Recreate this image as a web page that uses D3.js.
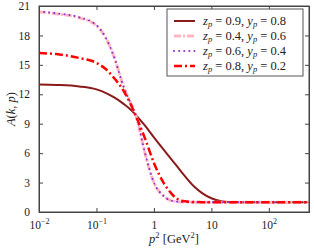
<!DOCTYPE html>
<html>
<head>
<meta charset="utf-8">
<script src="https://cdn.jsdelivr.net/npm/d3@7"></script>
<style>
  body { margin: 0; background: #fff; }
  #chart, #chart text, #chart tspan { font-family: 'Liberation Serif', 'DejaVu Serif', serif !important; }
</style>
</head>
<body>
<svg id="chart" width="314" height="251"></svg>
<script>
// p^2 grid [GeV^2]
const pSq = [0.01, 0.02, 0.05, 0.1, 0.15, 0.2, 0.3, 0.4, 0.5, 0.7, 1, 1.5, 2, 3, 5, 7, 10, 15, 20, 50, 100, 500];

// A(k,p) for each parameter set
const aZ09Y08 = [13.0, 12.95, 12.8, 12.5, 12.1, 11.7, 11.0, 10.4, 9.8, 8.8, 7.6, 6.3, 5.4, 4.1, 2.6, 1.9, 1.4, 1.1, 1.03, 1.0, 1.0, 1.0];
const aZ04Y06 = [20.4, 20.2, 19.8, 19.0, 17.6, 15.9, 12.7, 11.0, 9.6, 6.0, 3.0, 1.6, 1.15, 1.03, 1.0, 1.0, 1.0, 1.0, 1.0, 1.0, 1.0, 1.0];
const aZ06Y04 = [20.45, 20.25, 19.85, 19.05, 17.6, 15.9, 12.7, 11.0, 9.6, 6.0, 3.0, 1.6, 1.15, 1.03, 1.0, 1.0, 1.0, 1.0, 1.0, 1.0, 1.0, 1.0];
const aZ08Y02 = [16.2, 16.1, 15.7, 15.2, 14.5, 13.7, 12.3, 10.9, 9.6, 7.5, 5.0, 2.9, 1.9, 1.15, 1.02, 1.0, 1.0, 1.0, 1.0, 1.0, 1.0, 1.0];

const seriesLabels = [
  { z: '0.9', y: '0.8' },
  { z: '0.4', y: '0.6' },
  { z: '0.6', y: '0.4' },
  { z: '0.8', y: '0.2' }
];

const xTicks = [0.01, 0.1, 1, 10, 100];
const yTicks = [0, 3, 6, 9, 12, 15, 18, 21];

const series = [
  { values: aZ09Y08, color: '#8b1a1a', width: 2, dash: null, cap: 'butt', lab: seriesLabels[0] },
  { values: aZ04Y06, color: '#ffb6c1', width: 3, dash: '7,2,2,2', cap: 'butt', lab: seriesLabels[1] },
  { values: aZ06Y04, color: '#9932cc', width: 2, dash: '0.1,5', cap: 'round', lab: seriesLabels[2] },
  { values: aZ08Y02, color: '#ff0000', width: 2.5, dash: '8,3,2,3', cap: 'butt', lab: seriesLabels[3] }
];

const width = 314, height = 251;
const margin = { top: 6, right: 5, bottom: 39, left: 39 };
const area = {
  left: margin.left, right: width - margin.right,
  top: margin.top, bottom: height - margin.bottom
};

const svg = d3.select('#chart');

const x = d3.scaleLog().domain([0.01, 500]).range([area.left, area.right]);
const y = d3.scaleLinear().domain([0, 21]).range([area.bottom, area.top]);

// Curves
const line = d3.line()
  .x((d, i) => x(pSq[i]))
  .y(d => y(d))
  .curve(d3.curveMonotoneX);

svg.append('clipPath').attr('id', 'clip')
  .append('rect')
  .attr('x', area.left).attr('y', area.top)
  .attr('width', area.right - area.left).attr('height', area.bottom - area.top);

svg.append('g').selectAll('path.curve')
  .data(series)
  .join('path')
    .attr('class', 'curve')
    .attr('clip-path', 'url(#clip)')
    .attr('fill', 'none')
    .attr('stroke', d => d.color)
    .attr('stroke-width', d => d.width)
    .attr('stroke-dasharray', d => d.dash)
    .attr('stroke-linecap', d => d.cap)
    .attr('d', d => line(d.values));

// Axes: inward ticks on all four sides
const tickLen = 4;
function sup(sel, d) {
  if (d === 1 || d === 10) { sel.text(String(d)); return; }
  const e = Math.round(Math.log10(d));
  sel.text('10');
  sel.append('tspan').attr('dy', -5).attr('font-size', 8).text(e < 0 ? '\u2212' + (-e) : e);
}

const gx = svg.append('g')
  .attr('transform', `translate(0,${area.bottom})`)
  .call(d3.axisBottom(x).tickValues(xTicks).tickSize(-tickLen).tickPadding(9).tickFormat(''));
gx.selectAll('.tick text').each(function(d) { sup(d3.select(this), d); });

svg.append('g')
  .attr('transform', `translate(0,${area.top})`)
  .call(d3.axisTop(x).tickValues(xTicks).tickSize(-tickLen).tickFormat(''));

svg.append('g')
  .attr('transform', `translate(${area.left},0)`)
  .call(d3.axisLeft(y).tickValues(yTicks).tickSize(-tickLen).tickPadding(9));

svg.append('g')
  .attr('transform', `translate(${area.right},0)`)
  .call(d3.axisRight(y).tickValues(yTicks).tickSize(-tickLen).tickFormat(''));

svg.selectAll('g').attr('font-family', null);
svg.selectAll('.tick text').attr('font-size', 11.5).attr('fill', '#222');
svg.selectAll('.domain').attr('stroke', '#444');
svg.selectAll('.tick line').attr('stroke', '#444');

svg.append('rect')
  .attr('x', area.left).attr('y', area.top)
  .attr('width', area.right - area.left).attr('height', area.bottom - area.top)
  .attr('fill', 'none').attr('stroke', '#444').attr('stroke-width', 1);

// Axis titles
const xt = svg.append('text')
  .attr('x', (area.left + area.right) / 2).attr('y', 243)
  .attr('text-anchor', 'middle').attr('font-size', 12.5).attr('fill', '#222');
xt.append('tspan').attr('font-style', 'italic').text('p');
xt.append('tspan').attr('dy', -5).attr('font-size', 8.5).text('2');
xt.append('tspan').attr('dy', 5).text(' [GeV');
xt.append('tspan').attr('dy', -5).attr('font-size', 8.5).text('2');
xt.append('tspan').attr('dy', 5).text(']');

const yt = svg.append('text')
  .attr('transform', `translate(15,${(area.top + area.bottom) / 2}) rotate(-90)`)
  .attr('text-anchor', 'middle').attr('font-size', 12.5).attr('fill', '#222');
yt.append('tspan').attr('font-style', 'italic').text('A');
yt.append('tspan').text('(');
yt.append('tspan').attr('font-style', 'italic').text('k');
yt.append('tspan').text(', ');
yt.append('tspan').attr('font-style', 'italic').text('p');
yt.append('tspan').text(')');

// Legend
const leg = svg.append('g');
leg.append('rect')
  .attr('x', 167).attr('y', 9).attr('width', 136).attr('height', 67)
  .attr('fill', '#fff').attr('stroke', '#555').attr('stroke-width', 1);

const rows = leg.selectAll('g.row')
  .data(series)
  .join('g')
    .attr('class', 'row')
    .attr('transform', (d, i) => `translate(174,${21 + i * 15})`);

rows.append('line')
  .attr('x1', 0).attr('x2', 21)
  .attr('stroke', d => d.color)
  .attr('stroke-width', d => d.width)
  .attr('stroke-dasharray', d => d.dash)
  .attr('stroke-linecap', d => d.cap);

rows.append('text')
  .attr('x', 29).attr('y', 4)
  .attr('font-size', 12.5).attr('fill', '#222')
  .each(function(d) {
    const t = d3.select(this);
    t.append('tspan').attr('font-style', 'italic').text('z');
    t.append('tspan').attr('font-style', 'italic').attr('font-size', 8.5).attr('dy', 2).text('p');
    t.append('tspan').attr('dy', -2).text(` = ${d.lab.z}, `);
    t.append('tspan').attr('font-style', 'italic').text('y');
    t.append('tspan').attr('font-style', 'italic').attr('font-size', 8.5).attr('dy', 2).text('p');
    t.append('tspan').attr('dy', -2).text(` = ${d.lab.y}`);
  });
</script>
</body>
</html>
